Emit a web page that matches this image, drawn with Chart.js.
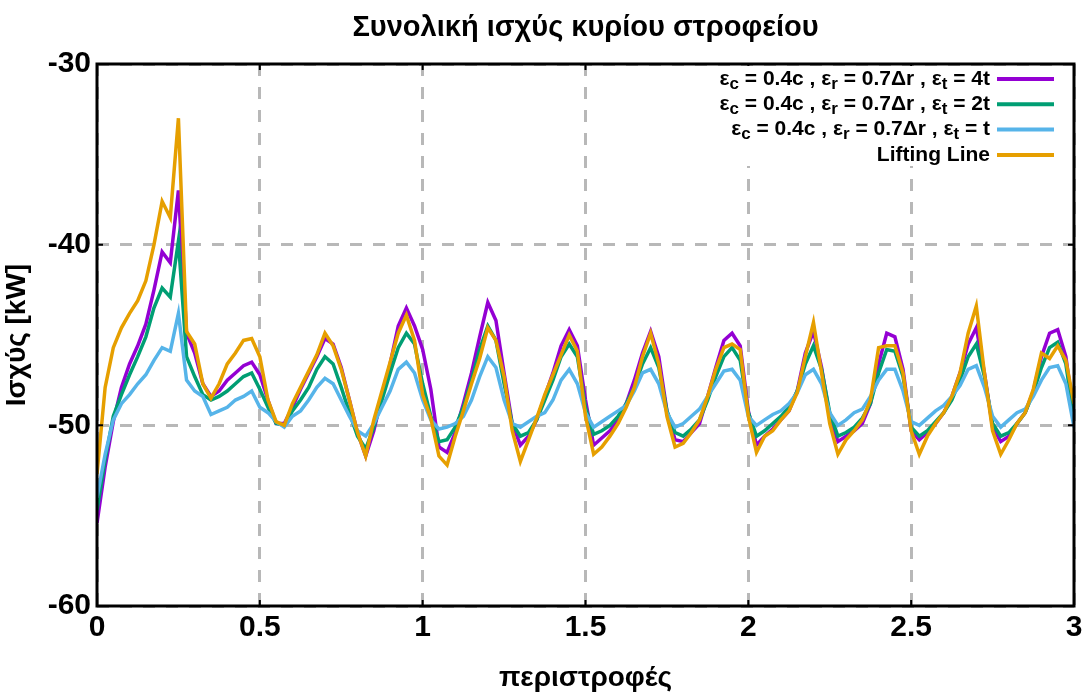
<!DOCTYPE html>
<html>
<head>
<meta charset="utf-8">
<title>Συνολική ισχύς κυρίου στροφείου</title>
<script src="https://cdn.jsdelivr.net/npm/chart.js@4.4.1/dist/chart.umd.min.js"></script>
<style>
  html, body { margin: 0; padding: 0; background: #fff; }
  #wrap { width: 1091px; height: 695px; position: relative; }
</style>
</head>
<body>
<div id="wrap"><canvas id="powerChart"></canvas></div>
<script>
// --- data (kW vs revolutions, step 0.025 rev) ---
const revs = Array.from({ length: 121 }, (_, i) => +(i * 0.025).toFixed(3));

const power4t = [
  -55.4, -52.3, -49.8, -47.9, -46.6, -45.6, -44.4, -42.5, -40.4, -41.0,
  -37.0, -44.9, -46.0, -47.7, -48.4, -48.1, -47.5, -47.1, -46.7, -46.5,
  -47.2, -48.6, -49.9, -49.9, -49.0, -48.0, -47.1, -46.2, -45.2, -45.5,
  -46.8, -48.6, -50.4, -51.7, -50.3, -48.4, -46.6, -44.5, -43.5, -44.5,
  -45.8, -48.0, -51.2, -51.5, -50.4, -48.8, -47.1, -45.1, -43.2, -44.2,
  -47.1, -49.9, -51.1, -50.6, -49.7, -48.4, -47.1, -45.6, -44.7, -45.6,
  -48.6, -51.1, -50.7, -50.3, -49.7, -48.8, -47.5, -46.0, -44.8, -46.2,
  -49.2, -50.8, -50.9, -50.4, -49.9, -48.4, -46.8, -45.3, -44.9, -45.6,
  -49.2, -51.1, -50.6, -50.2, -49.7, -49.2, -48.1, -46.0, -44.8, -46.8,
  -49.5, -50.9, -50.6, -50.3, -49.9, -48.8, -46.6, -44.9, -45.1, -46.9,
  -50.3, -50.8, -50.4, -49.9, -49.3, -48.4, -47.1, -45.5, -44.6, -47.1,
  -50.1, -50.9, -50.6, -49.9, -49.3, -48.1, -46.2, -44.9, -44.7, -46.2,
  -49.5
];

const power2t = [
  -54.7, -51.9, -49.5, -48.3, -47.2, -46.2, -45.1, -43.5, -42.4, -42.9,
  -39.8, -46.2, -47.3, -48.3, -48.6, -48.4, -48.1, -47.7, -47.3, -47.1,
  -48.0, -49.0, -49.9, -50.0, -49.2, -48.6, -47.9, -46.9, -46.2, -46.6,
  -47.9, -49.3, -50.6, -51.3, -50.1, -48.6, -47.1, -45.7, -44.9, -45.5,
  -47.7, -49.5, -50.9, -50.8, -50.1, -49.0, -47.5, -45.8, -44.5, -45.3,
  -47.7, -49.9, -50.6, -50.4, -49.7, -48.6, -47.5, -46.2, -45.5, -46.2,
  -49.0, -50.5, -50.3, -50.0, -49.5, -48.8, -47.9, -46.6, -45.7, -46.8,
  -49.2, -50.4, -50.6, -50.2, -49.7, -48.6, -47.3, -46.2, -45.7, -46.4,
  -49.3, -50.6, -50.3, -49.9, -49.5, -49.0, -48.1, -46.6, -45.6, -46.9,
  -49.3, -50.6, -50.4, -50.1, -49.6, -48.8, -47.1, -45.8, -45.9, -47.3,
  -50.1, -50.6, -50.3, -49.8, -49.3, -48.6, -47.5, -46.2, -45.5, -47.3,
  -49.9, -50.6, -50.4, -49.9, -49.3, -48.2, -46.8, -45.7, -45.4, -46.6,
  -49.7
];

const power1t = [
  -54.0, -51.6, -49.7, -48.8, -48.3, -47.7, -47.2, -46.4, -45.7, -45.9,
  -43.8, -47.5, -48.1, -48.4, -49.4, -49.2, -49.0, -48.6, -48.4, -48.1,
  -49.0, -49.3, -49.8, -50.1, -49.5, -49.2, -48.6, -47.9, -47.4, -47.7,
  -48.6, -49.5, -50.3, -50.6, -49.9, -49.0, -48.1, -46.9, -46.5, -47.1,
  -48.6, -49.7, -50.2, -50.1, -49.9, -49.5, -48.6, -47.3, -46.2, -46.8,
  -48.6, -49.9, -50.1, -49.8, -49.5, -49.3, -48.6, -47.5, -46.9, -47.7,
  -49.3, -50.1, -49.8, -49.5, -49.2, -48.9, -48.1, -47.1, -46.9, -47.7,
  -49.3, -50.1, -49.9, -49.5, -49.1, -48.4, -47.7, -47.0, -46.9, -47.5,
  -49.5, -50.0, -49.7, -49.4, -49.2, -48.8, -48.2, -47.2, -46.9, -47.7,
  -49.3, -50.0, -49.7, -49.3, -49.1, -48.4, -47.5, -46.9, -46.9, -48.1,
  -49.8, -50.0, -49.6, -49.2, -48.9, -48.4, -47.8, -46.9, -46.7, -47.9,
  -49.5, -50.1, -49.7, -49.3, -49.1, -48.4, -47.5, -46.8, -46.7, -47.7,
  -50.1
];

const powerLiftingLine = [
  -52.7, -47.9, -45.7, -44.6, -43.8, -43.1, -42.0, -40.0, -37.6, -38.5,
  -33.0, -44.8, -45.5, -47.7, -48.5, -47.7, -46.6, -46.0, -45.3, -45.2,
  -46.2, -48.6, -49.8, -50.0, -48.8, -47.9, -47.0, -46.1, -44.9, -45.6,
  -46.9, -48.6, -50.4, -51.7, -49.7, -48.1, -46.5, -44.9, -43.9, -45.3,
  -48.3, -49.6, -51.7, -52.2, -50.6, -49.2, -47.7, -46.3, -44.6, -45.3,
  -47.3, -50.3, -52.0, -50.8, -49.6, -48.3, -47.2, -46.1, -45.0, -45.9,
  -49.5, -51.6, -51.2, -50.6, -49.9, -49.0, -47.9, -46.2, -44.9, -46.6,
  -49.5, -51.2, -51.0, -50.4, -49.7, -48.4, -46.9, -45.7, -45.5, -45.8,
  -49.5, -51.5, -50.6, -50.3, -49.7, -49.2, -48.2, -46.2, -44.3, -47.1,
  -49.9, -51.6, -50.8, -50.3, -49.7, -48.6, -45.7, -45.6, -45.6, -47.1,
  -50.3, -51.6, -50.6, -49.9, -49.3, -48.4, -47.1, -44.9, -43.4, -47.1,
  -50.3, -51.6, -50.8, -49.9, -49.3, -48.0, -46.0, -46.3, -45.6, -46.4,
  -48.8
];

const seriesNames = [
  'ε_c = 0.4c , ε_r = 0.7Δr , ε_t = 4t',
  'ε_c = 0.4c , ε_r = 0.7Δr , ε_t = 2t',
  'ε_c = 0.4c , ε_r = 0.7Δr , ε_t = t',
  'Lifting Line'
];
const seriesColors = ['#9400d3', '#009e73', '#56b4e9', '#e69f00'];

const xTickValues = [0, 0.5, 1, 1.5, 2, 2.5, 3];
const xTickLabels = ['0', '0.5', '1', '1.5', '2', '2.5', '3'];
const yTickValues = [-60, -50, -40, -30];
const yTickLabels = ['-60', '-50', '-40', '-30'];

const FONT = "'Liberation Sans Narrow', 'Liberation Sans', Arial, sans-serif";

// --- helper: zip x/y arrays into points for a linear x scale ---
function toPoints(ys) {
  return revs.map((x, i) => ({ x: x, y: ys[i] }));
}

// --- frame with inward tick marks (gnuplot style border) ---
const framePlugin = {
  id: 'frame',
  afterDraw(chart) {
    const { ctx, chartArea: a, scales } = chart;
    ctx.save();
    ctx.strokeStyle = '#000';
    ctx.lineWidth = 2;
    xTickValues.forEach(v => {
      const px = scales.x.getPixelForValue(v);
      ctx.beginPath();
      ctx.moveTo(px, a.bottom); ctx.lineTo(px, a.bottom - 6);
      ctx.moveTo(px, a.top); ctx.lineTo(px, a.top + 6);
      ctx.stroke();
    });
    yTickValues.forEach(v => {
      const py = scales.y.getPixelForValue(v);
      ctx.beginPath();
      ctx.moveTo(a.left, py); ctx.lineTo(a.left + 6, py);
      ctx.moveTo(a.right, py); ctx.lineTo(a.right - 6, py);
      ctx.stroke();
    });
    ctx.lineWidth = 3;
    ctx.strokeRect(a.left, a.top, a.right - a.left, a.bottom - a.top);
    ctx.restore();
  }
};

// --- legend: right aligned text with sample line on its right ---
function drawRich(ctx, text, rightX, y, size) {
  const parts = [];
  for (let i = 0; i < text.length; i++) {
    if (text[i] === '_') { parts.push({ t: text[i + 1], sub: true }); i++; }
    else if (parts.length && !parts[parts.length - 1].sub) parts[parts.length - 1].t += text[i];
    else parts.push({ t: text[i], sub: false });
  }
  const big = 'bold ' + size + 'px ' + FONT;
  const small = 'bold ' + Math.round(size * 0.8) + 'px ' + FONT;
  let total = 0;
  parts.forEach(p => { ctx.font = p.sub ? small : big; p.w = ctx.measureText(p.t).width; total += p.w; });
  let x = rightX - total;
  parts.forEach(p => {
    ctx.font = p.sub ? small : big;
    ctx.fillText(p.t, x, p.sub ? y + 5 : y);
    x += p.w;
  });
}

const legendPlugin = {
  id: 'gnuLegend',
  afterDraw(chart) {
    const { ctx, chartArea: a } = chart;
    ctx.save();
    ctx.fillStyle = '#fff';
    ctx.fillRect(692, a.top + 2, a.right - 694, 100);
    ctx.textBaseline = 'middle';
    seriesNames.forEach((name, i) => {
      const y = 79 + i * 25.3;
      ctx.fillStyle = '#000';
      drawRich(ctx, name, 990, y, 21);
      ctx.strokeStyle = seriesColors[i];
      ctx.lineWidth = 4;
      ctx.beginPath();
      ctx.moveTo(997, y); ctx.lineTo(1054, y);
      ctx.stroke();
    });
    ctx.restore();
  }
};

function renderPowerChart() {
  const ctx = document.getElementById('powerChart');
  const allSeries = [power4t, power2t, power1t, powerLiftingLine];

  new Chart(ctx, {
    type: 'line',
    data: {
      datasets: allSeries.map((ys, i) => ({
        label: seriesNames[i],
        data: toPoints(ys),
        borderColor: seriesColors[i],
        backgroundColor: seriesColors[i],
        borderWidth: 3.5,
        pointRadius: 0,
        tension: 0,
        order: 4 - i // lifting line drawn on top
      }))
    },
    options: {
      responsive: true,
      maintainAspectRatio: false,
      animation: false,
      devicePixelRatio: 1,
      layout: { padding: { left: 0, right: 17, top: 0, bottom: 0 } },
      plugins: {
        legend: { display: false },
        tooltip: { enabled: false },
        title: {
          display: true,
          text: 'Συνολική ισχύς κυρίου στροφείου',
          color: '#000',
          fullSize: false,
          font: { family: FONT, size: 29, weight: 'bold', lineHeight: 1.2 },
          padding: { top: 11, bottom: 18.2 }
        }
      },
      scales: {
        x: {
          type: 'linear',
          min: 0,
          max: 3,
          afterBuildTicks: s => { s.ticks = xTickValues.map(v => ({ value: v })); },
          afterFit: s => { s.height = 89; },
          ticks: {
            color: '#000',
            font: { family: FONT, size: 30, weight: 'bold' },
            padding: 4,
            maxRotation: 0,
            callback: v => xTickLabels[xTickValues.indexOf(v)]
          },
          grid: { color: '#b8b8b8', lineWidth: 3, drawTicks: false },
          border: { display: false, dash: [12, 11] },
          title: {
            display: true,
            text: 'περιστροφές',
            color: '#000',
            font: { family: FONT, size: 28, weight: 'bold' },
            padding: { top: 0, bottom: 0 }
          }
        },
        y: {
          min: -60,
          max: -30,
          afterBuildTicks: s => { s.ticks = yTickValues.map(v => ({ value: v })); },
          afterFit: s => { s.width = 97; },
          ticks: {
            color: '#000',
            font: { family: FONT, size: 30, weight: 'bold' },
            padding: 6,
            callback: v => yTickLabels[yTickValues.indexOf(v)]
          },
          grid: { color: '#b8b8b8', lineWidth: 3, drawTicks: false },
          border: { display: false, dash: [12, 11] },
          title: {
            display: true,
            text: 'Ισχύς [kW]',
            color: '#000',
            font: { family: FONT, size: 28, weight: 'bold' },
            padding: { top: 0, bottom: 4 }
          }
        }
      }
    },
    plugins: [framePlugin, legendPlugin]
  });
}

document.addEventListener('DOMContentLoaded', () => {
  renderPowerChart();
});
</script>
</body>
</html>
